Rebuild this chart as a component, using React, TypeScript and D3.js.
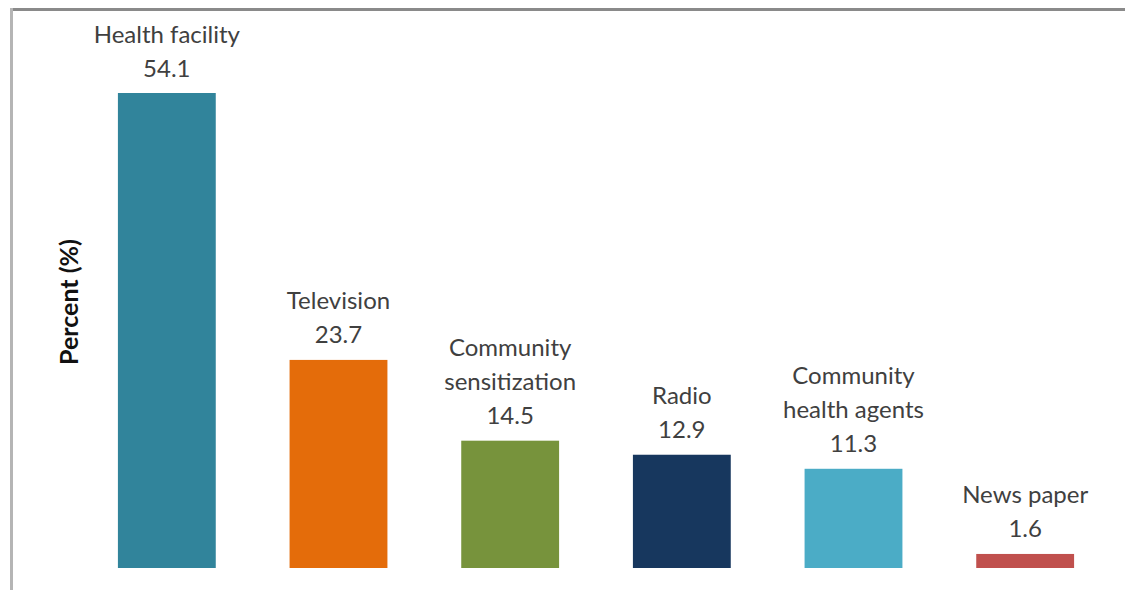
import React from "react";
import * as d3 from "d3";

const categories = ["Health facility", "Television", "Community sensitization", "Radio", "Community health agents", "News paper"];
const labelLines = [["Health facility"], ["Television"], ["Community", "sensitization"], ["Radio"], ["Community", "health agents"], ["News paper"]];
const values = [54.1, 23.7, 14.5, 12.9, 11.3, 1.6];
const colors = ["#31849B", "#E46C0A", "#77933C", "#17375E", "#4BACC6", "#C0504D"];

const W = 1125;
const H = 590;

export default function App() {
  const x = d3.scaleBand<string>().domain(categories).range([81, 1111]).paddingInner(0.43).paddingOuter(0.215);
  const y = d3.scaleLinear().domain([0, 54.1]).range([568, 93]);
  const lineH = 34;
  return (
    <svg width={W} height={H} style={{ position: "absolute", left: 0, top: 0 }} fontFamily="Lato, 'Open Sans', sans-serif">
      <rect x={0} y={0} width={W} height={H} fill="#fff" />
      <rect x={10} y={8} width={W - 10} height={3} fill="#8a8a8a" />
      <rect x={10} y={8} width={3} height={H - 8} fill="#b5b5b5" />
      {categories.map((c, i) => {
        const bx = x(c)!;
        const bw = x.bandwidth();
        const top = y(values[i]);
        const lines = [...labelLines[i], values[i].toFixed(1)];
        const cx = bx + bw / 2;
        return (
          <g key={c}>
            <rect x={bx} y={top} width={bw} height={y(0) - top} fill={colors[i]} />
            {lines.map((t, j) => (
              <text key={j} x={cx} y={top - 26 - (lines.length - 1 - j) * lineH} textAnchor="middle" dominantBaseline="central" fontSize={24} fill="#404040">
                {t}
              </text>
            ))}
          </g>
        );
      })}
      <text transform="translate(68,302) rotate(-90)" textAnchor="middle" dominantBaseline="central" fontSize={25} fontWeight="bold" fill="#111">
        Percent (%)
      </text>
    </svg>
  );
}
